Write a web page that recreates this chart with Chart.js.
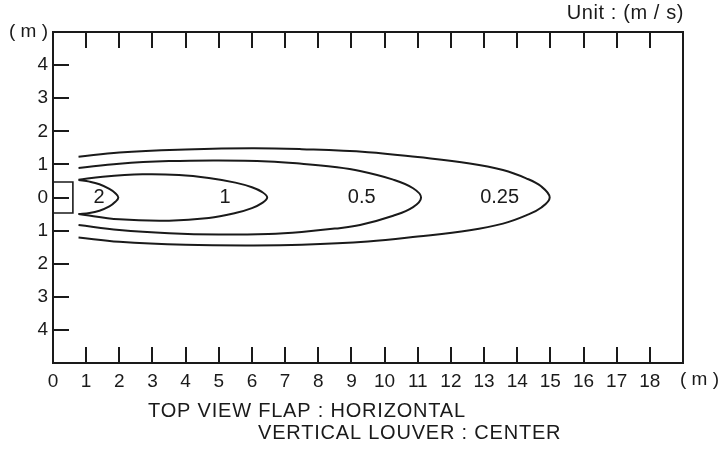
<!DOCTYPE html>
<html><head><meta charset="utf-8">
<script src="https://cdn.jsdelivr.net/npm/chart.js@4.4.1/dist/chart.umd.min.js"></script>
<style>html,body{margin:0;padding:0;background:#fff;}</style>
</head><body>
<canvas id="c" width="722" height="455" style="display:block;width:722px;height:455px"></canvas>
<script>
// ---- data ----
const xTickValues = [1,2,3,4,5,6,7,8,9,10,11,12,13,14,15,16,17,18];
const yTickValues = [-4,-3,-2,-1,0,1,2,3,4];
const contourLevels = ['2', '1', '0.5', '0.25'];
const contourLabelX = [1.39, 5.19, 9.31, 13.47];

const c2X = [0.77, 1.1, 1.4, 1.7, 1.88, 1.97, 1.88, 1.7, 1.4, 1.1, 0.77];
const c2Y = [0.53, 0.48, 0.40, 0.26, 0.13, 0, -0.13, -0.27, -0.40, -0.47, -0.50];

const c1X = [0.77, 1.5, 2.7, 3.8, 4.7, 5.5, 6.0, 6.3, 6.46, 6.3, 6.0, 5.5, 4.7, 3.5, 2.0, 0.77];
const c1Y = [0.54, 0.63, 0.70, 0.68, 0.59, 0.45, 0.31, 0.17, 0, -0.17, -0.32, -0.47, -0.62, -0.70, -0.66, -0.50];

const c05X = [0.77, 2, 3.5, 5, 6.5, 7.5, 8.5, 9.26, 10.26, 10.86, 11.1, 10.86, 10.26, 9.26, 8.5, 7.5, 6.5, 5, 3.5, 2, 0.77];
const c05Y = [0.89, 1.02, 1.10, 1.12, 1.09, 1.02, 0.92, 0.80, 0.54, 0.28, 0, -0.29, -0.55, -0.83, -0.94, -1.04, -1.10, -1.12, -1.08, -0.98, -0.83];

const c025X = [0.77, 2, 4, 6, 7.5, 9.5, 11, 12.57, 13.57, 14.27, 14.73, 14.98, 14.73, 14.27, 13.57, 12.57, 11, 9.5, 7.5, 6, 4, 2, 0.77];
const c025Y = [1.23, 1.36, 1.45, 1.49, 1.46, 1.37, 1.22, 1.03, 0.83, 0.58, 0.33, 0, -0.30, -0.54, -0.79, -0.99, -1.18, -1.33, -1.43, -1.45, -1.43, -1.34, -1.21];

const outletX = [0, 0.6, 0.6, 0];
const outletY = [0.47, 0.47, -0.47, -0.47];

const unitLabel = 'Unit : (m / s)';
const axisUnit = '( m )';
const noteLine1 = 'TOP VIEW FLAP : HORIZONTAL';
const noteLine2 = 'VERTICAL LOUVER : CENTER';

// ---- chart ----
const FONT = '"Liberation Sans", Arial, Helvetica, sans-serif';
const INK = '#1a1a1a';
function pts(xs, ys){ return xs.map((x,i)=>({x:x, y:ys[i]})); }
function lineDs(xs, ys, w, tension){
  return {data: pts(xs,ys), showLine:true, borderColor:INK, borderWidth:w, pointRadius:0, tension:tension, fill:false};
}

const deco = {
  id:'deco',
  afterDraw(chart){
    const {ctx, chartArea:a, scales:{x, y}} = chart;
    ctx.save();
    ctx.strokeStyle = INK; ctx.lineWidth = 2;
    ctx.strokeRect(a.left, a.top, a.right-a.left, a.bottom-a.top);
    ctx.beginPath();
    xTickValues.forEach(v=>{
      const px = Math.round(x.getPixelForValue(v));
      ctx.moveTo(px, a.bottom); ctx.lineTo(px, a.bottom-16);
      ctx.moveTo(px, a.top); ctx.lineTo(px, a.top+16);
    });
    yTickValues.forEach(v=>{
      const py = Math.round(y.getPixelForValue(v));
      ctx.moveTo(a.left, py); ctx.lineTo(a.left+16, py);
    });
    ctx.stroke();
    ctx.fillStyle = INK;
    ctx.font = '20px ' + FONT;
    ctx.textBaseline = 'middle';
    ctx.textAlign = 'center';
    contourLevels.forEach((t,i)=>{
      ctx.fillText(t, x.getPixelForValue(contourLabelX[i]), y.getPixelForValue(0));
    });
    ctx.font = '19px ' + FONT;
    ctx.textAlign = 'left';
    ctx.fillText(axisUnit, a.right - 3, 380);
    ctx.font = '20px ' + FONT;
    ctx.letterSpacing = '0.6px';
    ctx.textAlign = 'right';
    ctx.fillText(unitLabel, a.right + 1, 13);
    ctx.textAlign = 'left';
    ctx.letterSpacing = '0.8px';
    ctx.fillText(noteLine1, 148, 411);
    ctx.fillText(noteLine2, 258, 433);
    ctx.restore();
  }
};

new Chart(document.getElementById('c'), {
  type:'scatter',
  data:{ datasets:[
    lineDs(outletX, outletY, 1.6, 0),
    lineDs(c2X, c2Y, 2, 0.4),
    lineDs(c1X, c1Y, 2, 0.4),
    lineDs(c05X, c05Y, 2, 0.4),
    lineDs(c025X, c025Y, 2, 0.4)
  ]},
  options:{
    responsive:false, devicePixelRatio:1, animation:false,
    layout:{padding:{top:32, right:39, left:0, bottom:62}},
    plugins:{legend:{display:false}, tooltip:{enabled:false}},
    scales:{
      x:{type:'linear', min:0, max:19,
         grid:{display:false, drawTicks:false}, border:{display:false},
         afterFit(s){ s.height = 30; },
         ticks:{stepSize:1, autoSkip:false, maxRotation:0, padding:7, color:INK,
                font:{family:FONT, size:19},
                callback:(v)=> v<=18 ? String(v) : ''}},
      y:{type:'linear', min:-5, max:5,
         grid:{display:false, drawTicks:false}, border:{display:false},
         afterFit(s){ s.width = 53; },
         ticks:{stepSize:1, autoSkip:false, padding:5, color:INK,
                font:{family:FONT, size:19},
                callback:(v)=> v===5 ? axisUnit : (v===-5 ? '' : String(Math.abs(v)))}}
    }
  },
  plugins:[deco]
});
</script>
</body></html>
